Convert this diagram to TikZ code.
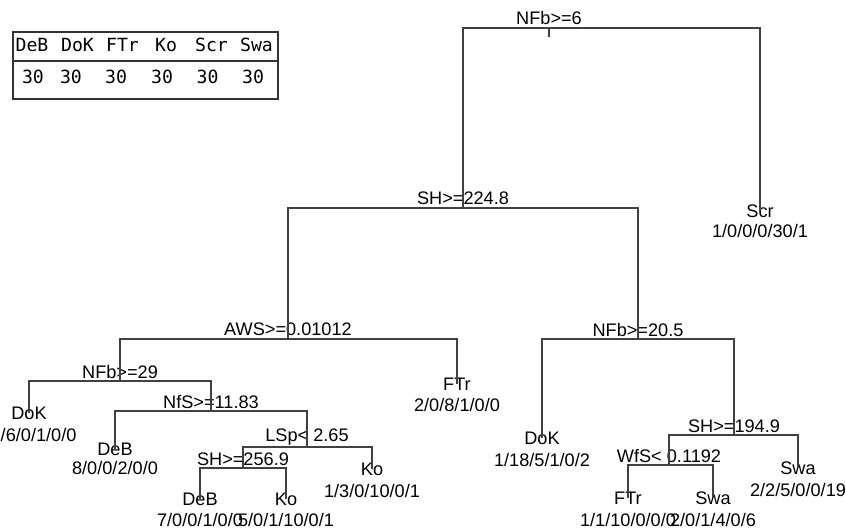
\documentclass[tikz,border=0pt]{standalone}
\usepackage{fontspec}
\setmainfont{Liberation Sans}
\newfontfamily\tabfont{DejaVu Sans Mono}
\tikzset{
  branch/.style={line width=1.1pt,black!75},
  splitlbl/.style={inner sep=0pt,font=\fontsize{15.5}{18}\selectfont},
  leaflbl/.style={inner sep=0pt,font=\fontsize{15.5}{18}\selectfont},
  tabcell/.style={inner sep=0pt,font=\tabfont\fontsize{15.5}{18}\selectfont},
  tabline/.style={line width=0.9pt,black!80}
}

\begin{document}
\begin{tikzpicture}[x=0.03cm,y=-0.03cm]
  \useasboundingbox (0,0) rectangle (846,530);
  % class table
  \draw[tabline] (13,32) rectangle (278,99); \draw[tabline] (12,61)--(278,61);
  \node[tabcell] (hDeB) at (32,45){DeB}; \node[tabcell] (hDoK) at (77.5,45){DoK}; \node[tabcell] (hFTr) at (122.5,45){FTr};
  \node[tabcell] (hKo) at (166,45){Ko}; \node[tabcell] (hScr) at (211.5,45){Scr}; \node[tabcell] (hSwa) at (256.5,45){Swa};
  \node[tabcell] (nDeB) at (33,77){30}; \node[tabcell] (nDoK) at (71,77){30}; \node[tabcell] (nFTr) at (116,77){30};
  \node[tabcell] (nKo) at (162,77){30}; \node[tabcell] (nScr) at (207.5,77){30}; \node[tabcell] (nSwa) at (253,77){30};
  % split points
  \coordinate (root) at (549,28); \coordinate (rootstub) at (549,37);
  \coordinate (shA) at (463,208); \coordinate (aws) at (288,339); \coordinate (nfbB) at (638,339);
  \coordinate (nfbC) at (120,381); \coordinate (nfs) at (211,411); \coordinate (lsp) at (307,447);
  \coordinate (shD) at (243,468); \coordinate (shE) at (734,435); \coordinate (wfs) at (669,465);
  % split labels
  \node[splitlbl] (lroot) at (549,18){NFb>=6};
  \node[splitlbl] (lshA) at (463,198){SH>=224.8};
  \node[splitlbl] (laws) at (288,329){AWS>=0.01012};
  \node[splitlbl] (lnfbB) at (638,330){NFb>=20.5};
  \node[splitlbl] (lnfbC) at (120,372){NFb>=29};
  \node[splitlbl] (lnfs) at (211,402){NfS>=11.83};
  \node[splitlbl] (llsp) at (307,437){LSp< 2.65};
  \node[splitlbl] (lshD) at (243,459){SH>=256.9};
  \node[splitlbl] (lshE) at (734,426){SH>=194.9};
  \node[splitlbl] (lwfs) at (669,456){WfS< 0.1192};
  % leaves
  \node[leaflbl] (scr) at (760,211){Scr}; \node[leaflbl] (scrN) at (760,231){1/0/0/0/30/1};
  \node[leaflbl] (ftrA) at (457,384){FTr}; \node[leaflbl] (ftrAN) at (457,405){2/0/8/1/0/0};
  \node[leaflbl] (dokA) at (29,413){DoK}; \node[leaflbl,anchor=west] (dokAN) at (0.5,435){/6/0/1/0/0};
  \node[leaflbl] (debA) at (115,449){DeB}; \node[leaflbl] (debAN) at (115,468){8/0/0/2/0/0};
  \node[leaflbl] (koA) at (372,469){Ko}; \node[leaflbl] (koAN) at (372,491){1/3/0/10/0/1};
  \node[leaflbl] (debB) at (200,499){DeB}; \node[leaflbl] (debBN) at (200,520){7/0/0/1/0/0};
  \node[leaflbl] (koB) at (286,499){Ko}; \node[leaflbl] (koBN) at (286,520){5/0/1/10/0/1};
  \node[leaflbl] (dokB) at (542,438){DoK}; \node[leaflbl] (dokBN) at (542,460){1/18/5/1/0/2};
  \node[leaflbl] (swaA) at (798,468){Swa}; \node[leaflbl] (swaAN) at (798,490){2/2/5/0/0/19};
  \node[leaflbl] (ftrB) at (628,498){FTr}; \node[leaflbl] (ftrBN) at (628,520){1/1/10/0/0/0};
  \node[leaflbl] (swaB) at (713,498){Swa}; \node[leaflbl] (swaBN) at (713,520){2/0/1/4/0/6};
  % branches
  \draw[branch] (root)--(rootstub);
  \draw[branch] (root) -| (shA); \draw[branch] (root) -| (scr.center);
  \draw[branch] (shA) -| (aws); \draw[branch] (shA) -| (nfbB);
  \draw[branch] (aws) -| (nfbC); \draw[branch] (aws) -| (ftrA.center);
  \draw[branch] (nfbC) -| (dokA.center); \draw[branch] (nfbC) -| (nfs);
  \draw[branch] (nfs) -| (debA.center); \draw[branch] (nfs) -| (lsp);
  \draw[branch] (lsp) -| (shD); \draw[branch] (lsp) -| (koA.center);
  \draw[branch] (shD) -| (debB.center); \draw[branch] (shD) -| (koB.center);
  \draw[branch] (nfbB) -| (dokB.center); \draw[branch] (nfbB) -| (shE);
  \draw[branch] (shE) -| (wfs); \draw[branch] (shE) -| (swaA.center);
  \draw[branch] (wfs) -| (ftrB.center); \draw[branch] (wfs) -| (swaB.center);
\end{tikzpicture}
\end{document}
